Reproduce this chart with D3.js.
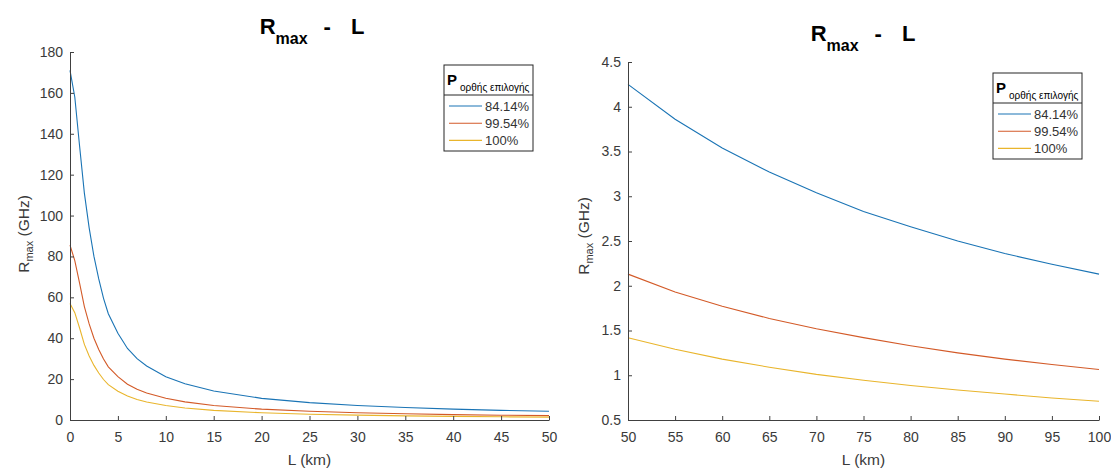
<!DOCTYPE html>
<html>
<head>
<meta charset="utf-8">
<script src="https://cdn.jsdelivr.net/npm/d3@7"></script>
<style>
  body { margin: 0; background: #fff; }
  text { font-family: Arial, "Liberation Sans", sans-serif; }
</style>
</head>
<body>
<div id="chart"></div>
<script>
// series labels (P ορθής επιλογής)
const seriesNames = ["84.14%", "99.54%", "100%"];
const seriesColors = ["#1a74b5", "#d35a28", "#e9b52c"];

// left panel: L = 0..50 km
const leftL = [0, 0.5, 1, 1.5, 2, 2.5, 3, 3.5, 4, 5, 6, 7, 8, 10, 12, 15, 20, 25, 30, 35, 40, 45, 50];
const leftBlue = [171, 158, 134, 111, 94, 80, 69, 59.5, 52, 42.4, 35, 30, 26.4, 21.2, 17.7, 14.2, 10.6, 8.5, 7.1, 6.1, 5.3, 4.7, 4.25];
const leftOrange = [85.5, 78, 67, 55.5, 47, 40, 34.5, 29.8, 26, 21.2, 17.5, 15, 13.2, 10.6, 8.85, 7.1, 5.3, 4.25, 3.55, 3.05, 2.65, 2.35, 2.13];
const leftYellow = [57, 52.5, 45, 37, 31.3, 26.7, 23, 19.8, 17.3, 14.1, 11.7, 10, 8.8, 7.1, 5.9, 4.7, 3.55, 2.83, 2.37, 2.03, 1.77, 1.57, 1.42];

// right panel: L = 50..100 km
const rightL = [50, 55, 60, 65, 70, 75, 80, 85, 90, 95, 100];
const rightBlue = [4.25, 3.86, 3.54, 3.27, 3.04, 2.83, 2.66, 2.5, 2.36, 2.24, 2.13];
const rightOrange = [2.13, 1.93, 1.77, 1.635, 1.52, 1.42, 1.33, 1.25, 1.18, 1.12, 1.065];
const rightYellow = [1.42, 1.29, 1.18, 1.09, 1.01, 0.945, 0.885, 0.835, 0.79, 0.745, 0.71];

// tick values
const leftXTicks = [0, 5, 10, 15, 20, 25, 30, 35, 40, 45, 50];
const leftYTicks = [0, 20, 40, 60, 80, 100, 120, 140, 160, 180];
const rightXTicks = [50, 55, 60, 65, 70, 75, 80, 85, 90, 95, 100];
const rightYTicks = [0.5, 1, 1.5, 2, 2.5, 3, 3.5, 4, 4.5];

const svg = d3.select("#chart").append("svg")
    .attr("width", 1111)
    .attr("height", 468);

const axisColor = "#404040";

function drawPanel(opt) {
    const x = d3.scaleLinear().domain(opt.xDomain).range([opt.left, opt.right]);
    const y = d3.scaleLinear().domain(opt.yDomain).range([opt.bottom, opt.top]);

    // lines
    const series = [opt.blue, opt.orange, opt.yellow];
    series.forEach((vals, i) => {
        const pts = opt.L.map((l, j) => [l, vals[j]]);
        svg.append("path")
            .datum(pts)
            .attr("fill", "none")
            .attr("stroke", seriesColors[i])
            .attr("stroke-width", 1.1)
            .attr("d", d3.line().x(d => x(d[0])).y(d => y(d[1])));
    });

    // x axis
    const gx = svg.append("g")
        .attr("transform", `translate(0,${opt.bottom})`)
        .call(d3.axisBottom(x).tickValues(opt.xTicks).tickFormat(d => String(d))
            .tickSizeInner(-4).tickSizeOuter(0).tickPadding(12));
    // y axis
    const gy = svg.append("g")
        .attr("transform", `translate(${opt.left},0)`)
        .call(d3.axisLeft(y).tickValues(opt.yTicks).tickFormat(d => String(d))
            .tickSizeInner(-4).tickSizeOuter(0).tickPadding(7));

    [gx, gy].forEach(g => {
        g.select(".domain").attr("stroke", axisColor);
        g.selectAll(".tick line").attr("stroke", axisColor);
        g.selectAll(".tick text")
            .attr("fill", "#3a3a3a")
            .style("font-size", "14px")
            .style("font-family", "Arial, 'Liberation Sans', sans-serif");
    });

    // x label
    svg.append("text")
        .attr("x", (opt.left + opt.right) / 2)
        .attr("y", 465)
        .attr("text-anchor", "middle")
        .attr("fill", "#3a3a3a")
        .style("font-size", "15.5px")
        .text("L (km)");

    // y label
    const yl = svg.append("text")
        .attr("transform", `translate(${opt.ylabelX},${opt.ylabelY}) rotate(-90)`)
        .attr("text-anchor", "middle")
        .attr("fill", "#3a3a3a")
        .style("font-size", "15.5px");
    yl.append("tspan").text("R");
    yl.append("tspan").attr("dy", 4).style("font-size", "11px").text("max");
    yl.append("tspan").attr("dy", -4).text(" (GHz)");

    // title
    const t = svg.append("text")
        .attr("x", opt.titleX)
        .attr("y", opt.titleY)
        .attr("text-anchor", "middle")
        .attr("fill", "#000")
        .style("font-weight", "bold")
        .style("font-size", "22px")
        .attr("xml:space", "preserve");
    t.append("tspan").text("R");
    t.append("tspan").attr("dy", 10).style("font-size", "16px").text("max");
    t.append("tspan").attr("dy", -10).attr("dx", 16).text("-");
    t.append("tspan").attr("dx", 20).text("L");

    // legend
    const lg = svg.append("g").attr("transform", `translate(${opt.legX},${opt.legY})`);
    lg.append("rect")
        .attr("width", 89).attr("height", 86)
        .attr("fill", "#fff").attr("stroke", "#262626").attr("stroke-width", 1);
    lg.append("line")
        .attr("x1", 0).attr("x2", 89).attr("y1", 30).attr("y2", 30)
        .attr("stroke", "#262626");
    const hd = lg.append("text").attr("x", 3).attr("y", 20).attr("fill", "#000");
    hd.append("tspan").style("font-weight", "bold").style("font-size", "15px").text("P");
    hd.append("tspan").attr("dy", 6).attr("dx", 3).style("font-size", "10px").text("ορθής επιλογής");
    seriesNames.forEach((name, i) => {
        const cy = 41 + i * 17.2;
        lg.append("line")
            .attr("x1", 5).attr("x2", 38).attr("y1", cy).attr("y2", cy)
            .attr("stroke", seriesColors[i]).attr("stroke-width", 1.1);
        lg.append("text")
            .attr("x", 41).attr("y", cy + 5)
            .attr("fill", "#333")
            .style("font-size", "13px")
            .text(name);
    });
}

drawPanel({
    L: leftL, blue: leftBlue, orange: leftOrange, yellow: leftYellow,
    xDomain: [0, 50], yDomain: [0, 180],
    left: 70, right: 549, top: 52, bottom: 420,
    xTicks: leftXTicks, yTicks: leftYTicks,
    ylabelX: 29, ylabelY: 234,
    titleX: 312, titleY: 34,
    legX: 444, legY: 65
});

drawPanel({
    L: rightL, blue: rightBlue, orange: rightOrange, yellow: rightYellow,
    xDomain: [50, 100], yDomain: [0.5, 4.5],
    left: 628, right: 1099, top: 62, bottom: 420,
    xTicks: rightXTicks, yTicks: rightYTicks,
    ylabelX: 589, ylabelY: 236,
    titleX: 863, titleY: 41,
    legX: 993, legY: 73
});
</script>
</body>
</html>
